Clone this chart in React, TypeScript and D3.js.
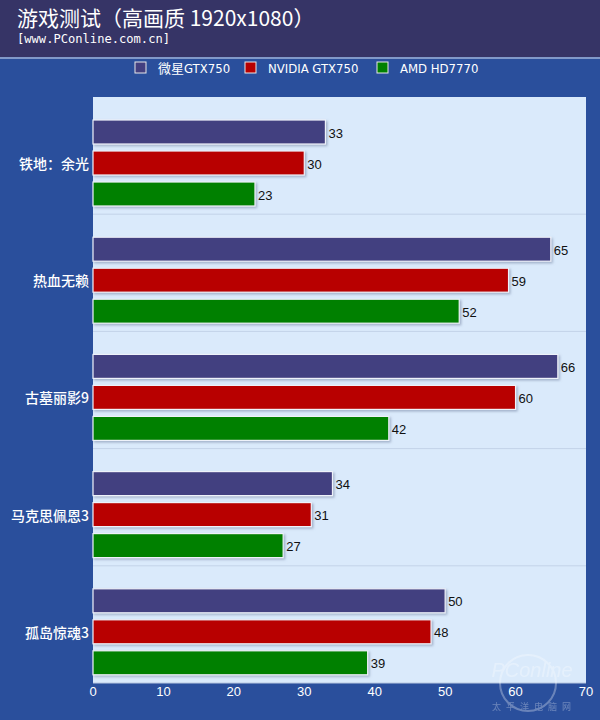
import React from "react";
import * as d3 from "d3";

const categories = ["铁地：余光", "热血无赖", "古墓丽影9", "马克思佩恩3", "孤岛惊魂3"];
const seriesNames = ["微星GTX750", "NVIDIA GTX750", "AMD HD7770"];
const seriesColors = ["#433F80", "#B80000", "#008000"];
const msiValues = [33, 65, 66, 34, 50];
const nvidiaValues = [30, 59, 60, 31, 48];
const amdValues = [23, 52, 42, 27, 39];
const xTicks = [0, 10, 20, 30, 40, 50, 60, 70];

const W = 600;
const H = 720;

export default function App() {
  const seriesValues = [msiValues, nvidiaValues, amdValues];
  const x = d3.scaleLinear().domain([0, 70]).range([93, 586]);
  const yOuter = d3.scaleBand<string>().domain(categories).range([97, 683]).padding(0);
  const yInner = d3
    .scaleBand<string>()
    .domain(seriesNames)
    .range([19.5, 112.5])
    .paddingInner(0.226)
    .paddingOuter(0.113);

  const legendX = [135, 245, 377];
  const cjk = "'Noto Sans CJK SC', 'Noto Sans', sans-serif";

  return (
    <svg
      width={W}
      height={H}
      style={{ position: "absolute", left: 0, top: 0 }}
      fontFamily={cjk}
    >
      <defs>
        <filter id="shadow" x="-5%" y="-20%" width="110%" height="160%">
          <feDropShadow dx="1.5" dy="1.5" stdDeviation="0.8" floodColor="#7a8aa8" floodOpacity="0.6" />
        </filter>
      </defs>
      <rect x={0} y={0} width={W} height={H} fill="#2A4F9C" />
      <rect x={0} y={0} width={W} height={57} fill="#363466" />
      <line x1={0} x2={W} y1={58} y2={58} stroke="#9fb2d8" strokeWidth={1.5} />
      <text x={17} y={26} fill="#ffffff" fontSize={21}>
        游戏测试（高画质 1920x1080）
      </text>
      <text x={17} y={43} fill="#ffffff" fontSize={12} fontFamily="'DejaVu Sans Mono', monospace" textLength={153} lengthAdjust="spacingAndGlyphs">
        [www.PConline.com.cn]
      </text>

      {seriesNames.map((s, i) => (
        <g key={s}>
          <rect x={legendX[i]} y={62} width={11} height={11} fill={seriesColors[i]} stroke="#e8e8e8" strokeWidth={1} />
          <text x={legendX[i] + 23} y={72.5} fill="#ffffff" fontSize={13} fontFamily="'DejaVu Sans Condensed', 'Noto Sans CJK SC', sans-serif">
            {s}
          </text>
        </g>
      ))}

      <rect x={93} y={97} width={493} height={586} fill="#DAEAFB" />
      {categories.slice(1).map((c) => (
        <line key={c} x1={93} x2={586} y1={yOuter(c)!} y2={yOuter(c)!} stroke="#c3d3e8" strokeWidth={1} />
      ))}
      <line x1={93} x2={586} y1={683} y2={683} stroke="#b8c8e0" strokeWidth={1} />

      {categories.map((c, ci) => {
        const gy = yOuter(c)!;
        return (
          <g key={c}>
            <text
              x={89}
              y={gy + yInner(seriesNames[1])! + yInner.bandwidth() / 2}
              fill="#ffffff"
              fontSize={14}
              fontWeight={500}
              textAnchor="end"
              dominantBaseline="central"
            >
              {c}
            </text>
            {seriesNames.map((s, si) => {
              const v = seriesValues[si][ci];
              const by = gy + yInner(s)!;
              return (
                <g key={s}>
                  <rect
                    x={x(0)}
                    y={by}
                    width={x(v) - x(0)}
                    height={yInner.bandwidth()}
                    fill={seriesColors[si]}
                    stroke="#eef2fa"
                    strokeWidth={1.2}
                    filter="url(#shadow)"
                  />
                  <text
                    x={x(v) + 3}
                    y={by + yInner.bandwidth() / 2 + 1}
                    fill="#111111"
                    fontSize={13}
                    dominantBaseline="central"
                    fontFamily="'Liberation Sans', Arial, sans-serif"
                  >
                    {v}
                  </text>
                </g>
              );
            })}
          </g>
        );
      })}

      {xTicks.map((t) => (
        <text
          key={t}
          x={x(t)}
          y={691}
          fill="#ffffff"
          fontSize={13}
          textAnchor="middle"
          dominantBaseline="central"
          fontFamily="'Liberation Sans', Arial, sans-serif"
        >
          {t}
        </text>
      ))}

      <g opacity={0.3}>
        <circle cx={528} cy={683} r={28} fill="none" stroke="#ffffff" strokeWidth={2} />
        <text x={532} y={677} fill="#ffffff" fontSize={20} textAnchor="middle" fontFamily="'Liberation Sans', Arial, sans-serif" fontStyle="italic">
          PConline
        </text>
        <text x={534} y={710} fill="#ffffff" fontSize={9} textAnchor="middle" letterSpacing={5}>
          太平洋电脑网
        </text>
      </g>
    </svg>
  );
}
